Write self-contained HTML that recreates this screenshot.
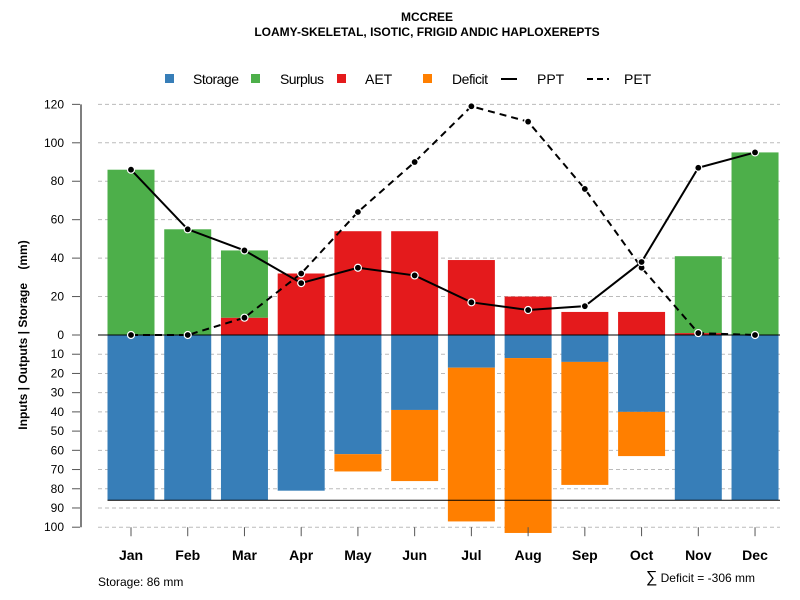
<!DOCTYPE html>
<html><head><meta charset="utf-8"><style>
body{margin:0;background:#fff}
svg{font-family:"Liberation Sans",sans-serif;display:block}
</style></head><body>
<svg id="c" width="800" height="600" viewBox="0 0 800 600">
<text x="427" y="21" font-size="12" font-weight="bold" text-anchor="middle">MCCREE</text>
<text x="427" y="36" font-size="12" font-weight="bold" text-anchor="middle">LOAMY-SKELETAL, ISOTIC, FRIGID ANDIC HAPLOXEREPTS</text>
<g font-size="14">
<rect x="165" y="74" width="9" height="9" fill="#377EB8"/>
<text x="193" y="84" textLength="46">Storage</text>
<rect x="251" y="74" width="9" height="9" fill="#4DAF4A"/>
<text x="280" y="84" textLength="44">Surplus</text>
<rect x="337" y="74" width="9" height="9" fill="#E41A1C"/>
<text x="365" y="84">AET</text>
<rect x="423" y="74" width="9" height="9" fill="#FF7F00"/>
<text x="452" y="84" textLength="36">Deficit</text>
<line x1="501" y1="79" x2="517" y2="79" stroke="#000" stroke-width="2"/>
<text x="537" y="84">PPT</text>
<line x1="587" y1="79" x2="609" y2="79" stroke="#000" stroke-width="2" stroke-dasharray="6,4"/>
<text x="624" y="84">PET</text>
</g>
<text transform="translate(27,335) rotate(-90)" font-size="12" font-weight="bold" text-anchor="middle" style="white-space:pre">Inputs | Outputs | Storage    (mm)</text>
<g id="grid"></g><g id="bars"></g><g id="lines"></g><g id="axes"></g>
<text x="98" y="586" font-size="12">Storage: 86 mm</text>
<text x="755" y="582" font-size="12" text-anchor="end"><tspan font-size="16">∑</tspan> Deficit = -306 mm</text>
</svg>
<script>
const months=["Jan","Feb","Mar","Apr","May","Jun","Jul","Aug","Sep","Oct","Nov","Dec"];
const storage=[86,86,86,81,62,39,17,12,14,40,86,86];
const surplus=[86,55,35,0,0,0,0,0,0,0,40,95];
const aet=[0,0,9,32,54,54,39,20,12,12,1,0];
const deficit=[0,0,0,0,9,37,80,91,64,23,0,0];
const ppt=[86,55,44,27,35,31,17,13,15,38,87,95];
const pet=[0,0,9,32,64,90,119,111,76,35,1,0];
const upTicks=[0,20,40,60,80,100,120];
const downTicks=[10,20,30,40,50,60,70,80,90,100];
const maxStorage=86;
const NS="http://www.w3.org/2000/svg";
const y0=335,k=1.922;
const yUp=v=>y0-v*k, yDn=v=>y0+v*k;
const xC=i=>131+i*56.73, bw=47;
function mk(p,t,a){const e=document.createElementNS(NS,t);for(const q in a)e.setAttribute(q,a[q]);document.getElementById(p).appendChild(e);return e;}
upTicks.forEach(v=>{
 if(v>0){const g=mk("grid","line",{x1:98,x2:780,y1:yUp(v),y2:yUp(v),stroke:"#bbb","stroke-dasharray":"4,3"});
 
 }
 const t=mk("axes","line",{x1:72,x2:80,y1:yUp(v),y2:yUp(v),stroke:"#555"});
 
 
 const l=mk("axes","text",{x:64,y:yUp(v)+4,"font-size":12,"text-anchor":"end"});l.textContent=v;
 
 
});
downTicks.forEach(v=>{
 const g=mk("grid","line",{x1:98,x2:780,y1:yDn(v),y2:yDn(v),stroke:"#bbb","stroke-dasharray":"4,3"});
 
 
 const t=mk("axes","line",{x1:72,x2:80,y1:yDn(v),y2:yDn(v),stroke:"#555"});
 
 
 const l=mk("axes","text",{x:64,y:yDn(v)+4,"font-size":12,"text-anchor":"end"});l.textContent=v;
 
 
});
const ax=mk("axes","line",{x1:81,x2:81,y1:yUp(120),y2:yDn(100),stroke:"#555","stroke-width":1.5});


months.forEach((m,i)=>{
 const x=xC(i)-bw/2;
 const s=mk("bars","rect",{x:x,y:y0,width:bw,height:storage[i]*k,fill:"#377EB8"});
 
 
 if(deficit[i]>0){const d=mk("bars","rect",{x:x,y:yDn(storage[i]),width:bw,height:deficit[i]*k,fill:"#FF7F00"});
 
 }
 if(aet[i]>0){const a=mk("bars","rect",{x:x,y:yUp(aet[i]),width:bw,height:aet[i]*k,fill:"#E41A1C"});
 
 }
 if(surplus[i]>0){const u=mk("bars","rect",{x:x,y:yUp(aet[i]+surplus[i]),width:bw,height:surplus[i]*k,fill:"#4DAF4A"});
 
 }
 const t=mk("axes","line",{x1:xC(i),x2:xC(i),y1:yDn(100),y2:yDn(100)+9,stroke:"#555"});
 
 
 const l=mk("axes","text",{x:xC(i),y:560,"font-size":14,"font-weight":"bold","text-anchor":"middle"});l.textContent=m;
 
 
});
const zl=mk("lines","line",{x1:98,x2:780,y1:y0,y2:y0,stroke:"#000"});


const sl=mk("lines","line",{x1:xC(0)-bw/2,x2:780,y1:yDn(maxStorage),y2:yDn(maxStorage),stroke:"#000"});


function series(vals,name,dash){
 const p=mk("lines","polyline",{points:vals.map((v,i)=>xC(i)+","+yUp(v)).join(" "),fill:"none",stroke:"#000","stroke-width":2,"stroke-dasharray":dash});
 
 
 vals.forEach((v,i)=>{const c=mk("lines","circle",{cx:xC(i),cy:yUp(v),r:3.5,fill:"#000",stroke:"#fff","stroke-width":1.2});
 
 });
}
series(pet,"pet","7,5");
series(ppt,"ppt","none");
</script>
</body></html>
